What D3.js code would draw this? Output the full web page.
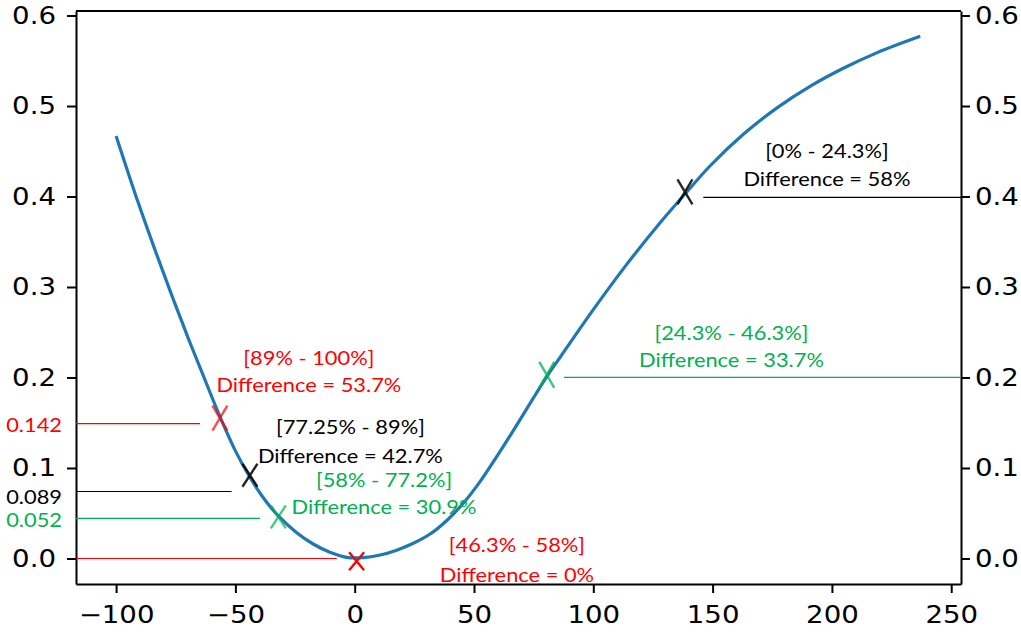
<!DOCTYPE html>
<html lang="en">
<head>
<meta charset="UTF-8">
<title>Difference curve</title>
<style>
    body { margin: 0; background: #fff; }
    .tick text { font-family: "DejaVu Sans", sans-serif; font-size: 24px; fill: #000; }
    .tick line { stroke: #000; stroke-width: 2; }
    .domain { stroke: #000; stroke-width: 2; }
    .note { font-family: Lato, "Noto Sans", sans-serif; font-size: 19px; }
</style>
</head>
<body>
<div id="chart"></div>

<script src="https://cdnjs.cloudflare.com/ajax/libs/d3/7.8.5/d3.min.js"></script>
<script>
// curve
const curveX = [-100, -90.7, -83.7, -76.7, -69.7, -62.7, -56.5, -50.2, -44, -38, -32, -24.3, -17.4,
                -10.4, -3.4, 3.6, 10.6, 17.6, 24.6, 31.6, 38.6, 45.5, 52, 64,
                80.5, 86, 100, 114, 128, 138.5, 149, 163, 177, 191, 205, 219, 237];
const curveY = [0.467, 0.393, 0.341, 0.291, 0.243, 0.197, 0.157, 0.120, 0.090, 0.066, 0.047, 0.0285, 0.016,
                0.0069, 0.0013, 0.001, 0.0038, 0.0092, 0.0168, 0.027, 0.042, 0.061, 0.083, 0.131,
                0.201, 0.222, 0.275, 0.325, 0.371, 0.403, 0.434, 0.469, 0.498, 0.522, 0.542, 0.559, 0.577];

// X markers
const markX = [138.4, 80.5, -56.5, -43.9, -32, 0.8];
const markY = [0.405, 0.203, 0.155, 0.092, 0.046, -0.003];
const markKind = ["black", "green", "red", "black", "green", "red"];

// horizontal guide lines (left ones start at the left spine, right ones end at the right spine)
const guideY = [0.149, 0.074, 0.0444, 0.0, 0.399, 0.2002];
const guideSide = ["left", "left", "left", "left", "right", "right"];
const guideEnd = [-64.8, -51.6, -39.7, -7.5, 146.1, 87.7];
const guideKind = ["red", "black", "green", "red", "black", "green"];

// annotation texts
const noteRange = ["[0% - 24.3%]", "[24.3% - 46.3%]", "[89% - 100%]", "[77.25% - 89%]", "[58% - 77.2%]", "[46.3% - 58%]"];
const noteDiff = ["Difference = 58%", "Difference = 33.7%", "Difference = 53.7%", "Difference = 42.7%", "Difference = 30.9%", "Difference = 0%"];
const noteX = [197.9, 157.9, -19.2, -1.8, 12.3, 68.0];
const noteY1 = [0.4422, 0.2414, 0.2138, 0.1376, 0.0787, 0.0075];
const noteY2 = [0.4119, 0.2119, 0.1843, 0.1052, 0.0488, -0.0256];
const noteKind = ["black", "green", "red", "black", "green", "red"];

// values written left of the axis
const levelText = ["0.142", "0.089", "0.052"];
const levelY = [0.1398, 0.0602, 0.0348];
const levelKind = ["red", "black", "green"];

const xTicks = [-100, -50, 0, 50, 100, 150, 200, 250];
const yTicks = [0, 0.1, 0.2, 0.3, 0.4, 0.5, 0.6];

const W = 1021, H = 633;
const margin = {top: 11, right: 60, bottom: 49, left: 76};
const SX = 1.15; // the picture is a bit stretched sideways

const color = d3.scaleOrdinal()
    .domain(["red", "green", "black"])
    .range(["#ff0000", "#00b050", "#000000"]);

const x = d3.scaleLinear().domain([-116.8, 254.1]).range([margin.left, W - margin.right]);
const y = d3.scaleLinear().domain([-0.0282, 0.605]).range([H - margin.bottom, margin.top]);

const svg = d3.select("#chart").append("svg")
    .attr("width", W)
    .attr("height", H);

// axes
const xAxis = svg.append("g")
    .attr("transform", `translate(0,${y.range()[0]})`)
    .call(d3.axisBottom(x).tickValues(xTicks).tickSize(9).tickPadding(13).tickSizeOuter(0));
xAxis.selectAll(".tick text")
    .attr("transform", `translate(0,${22}) scale(${SX},1)`)
    .attr("y", 0);

const yLeft = svg.append("g")
    .attr("transform", `translate(${x.range()[0]},0)`)
    .call(d3.axisLeft(y).tickValues(yTicks).tickFormat(d3.format(".1f")).tickSize(9).tickSizeOuter(0));
yLeft.selectAll(".tick text")
    .attr("transform", `translate(-20,0) scale(${SX},1)`)
    .attr("x", 0);

const yRight = svg.append("g")
    .attr("transform", `translate(${x.range()[1]},0)`)
    .call(d3.axisRight(y).tickValues(yTicks).tickFormat(d3.format(".1f")).tickSize(9).tickSizeOuter(0));
yRight.selectAll(".tick text")
    .attr("transform", `translate(14,0) scale(${SX},1)`)
    .attr("x", 0);

// top spine
svg.append("line")
    .attr("x1", x.range()[0]).attr("x2", x.range()[1])
    .attr("y1", y.range()[1]).attr("y2", y.range()[1])
    .attr("stroke", "#000").attr("stroke-width", 2);

// guide lines
svg.append("g").selectAll("line")
    .data(d3.range(guideY.length))
    .join("line")
    .attr("x1", i => guideSide[i] === "left" ? x.range()[0] : x(guideEnd[i]))
    .attr("x2", i => guideSide[i] === "left" ? x(guideEnd[i]) : x.range()[1])
    .attr("y1", i => y(guideY[i]))
    .attr("y2", i => y(guideY[i]))
    .attr("stroke", i => color(guideKind[i]))
    .attr("stroke-width", 1.2);

// the curve
const line = d3.line()
    .x(i => x(curveX[i]))
    .y(i => y(curveY[i]))
    .curve(d3.curveCatmullRom.alpha(0.5));

svg.append("path")
    .datum(d3.range(curveX.length))
    .attr("d", line)
    .attr("fill", "none")
    .attr("stroke", "#1f77b4")
    .attr("stroke-width", 3.2);

// X markers
const markH = [25, 26, 25, 23, 23, 18];
const markAlpha = [0.85, 0.75, 0.7, 0.85, 0.7, 1];
svg.append("g").selectAll("path")
    .data(d3.range(markX.length))
    .join("path")
    .attr("transform", i => `translate(${x(markX[i])},${y(markY[i])})`)
    .attr("d", i => {
        const h = markH[i] / 2, w = 7.5;
        return `M${-w},${-h}L${w},${h}M${w},${-h}L${-w},${h}`;
    })
    .attr("fill", "none")
    .attr("stroke", i => color(markKind[i]))
    .attr("stroke-opacity", i => markAlpha[i])
    .attr("stroke-width", 2.4);

// annotations
const notes = svg.append("g").attr("class", "note");
d3.range(noteRange.length).forEach(i => {
    notes.append("text")
        .attr("transform", `translate(${x(noteX[i])},${y(noteY1[i])}) scale(${SX},1)`)
        .attr("text-anchor", "middle")
        .attr("fill", color(noteKind[i]))
        .text(noteRange[i]);
    notes.append("text")
        .attr("transform", `translate(${x(noteX[i])},${y(noteY2[i])}) scale(${SX},1)`)
        .attr("text-anchor", "middle")
        .attr("fill", color(noteKind[i]))
        .text(noteDiff[i]);
});

// level values on the left
notes.selectAll(".level")
    .data(d3.range(levelText.length))
    .join("text")
    .attr("class", "level")
    .attr("transform", i => `translate(62,${y(levelY[i])}) scale(${SX},1)`)
    .attr("text-anchor", "end")
    .attr("fill", i => color(levelKind[i]))
    .text(i => levelText[i]);
</script>
</body>
</html>
